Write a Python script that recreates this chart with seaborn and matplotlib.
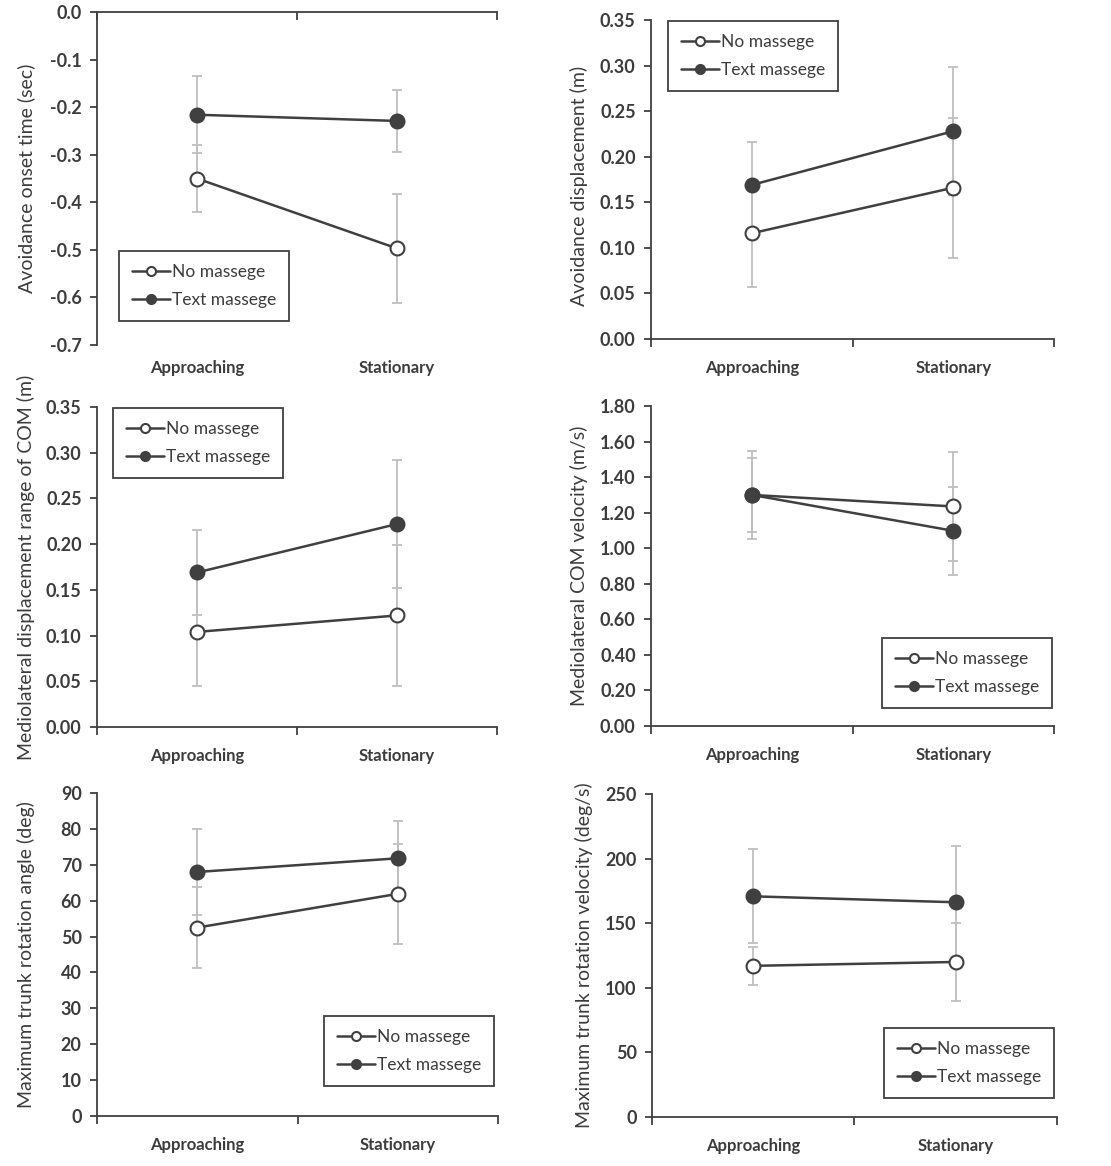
import numpy as np
import pandas as pd
import matplotlib
matplotlib.use("Agg")
import matplotlib.pyplot as plt
from matplotlib.ticker import FixedLocator
import seaborn as sns

# Data
conditions = ['Approaching', 'Stationary']
groups = ['No massege', 'Text massege']

onset_no = [-0.350, -0.497]
onset_no_err = [0.070, 0.115]
onset_text = [-0.216, -0.229]
onset_text_err = [0.081, 0.065]

disp_no = [0.116, 0.166]
disp_no_err = [0.059, 0.077]
disp_text = [0.169, 0.228]
disp_text_err = [0.047, 0.070]

ml_disp_no = [0.104, 0.122]
ml_disp_no_err = [0.059, 0.077]
ml_disp_text = [0.169, 0.222]
ml_disp_text_err = [0.047, 0.070]

ml_vel_no = [1.300, 1.235]
ml_vel_no_err = [0.210, 0.306]
ml_vel_text = [1.300, 1.098]
ml_vel_text_err = [0.246, 0.247]

angle_no = [52.5, 61.9]
angle_no_err = [11.3, 14.0]
angle_text = [68.0, 71.8]
angle_text_err = [12.0, 10.5]

rotvel_no = [117.0, 120.0]
rotvel_no_err = [14.5, 30.5]
rotvel_text = [170.8, 166.2]
rotvel_text_err = [36.5, 43.5]

sns.set_theme(style="white")
plt.rcParams['font.family'] = ['Lato', 'DejaVu Sans']

DARK = '#404040'
GREY = '#bfbfbf'
TXT = '#3c3c3c'

W, H = 1111, 1166
fig = plt.figure(figsize=(W / 100, H / 100), dpi=100)


def px_axes(x0, x1, ytop, ybot):
    return fig.add_axes([x0 / W, 1 - ybot / H, (x1 - x0) / W, (ybot - ytop) / H])


panels = [
    dict(box=(97, 497, 12, 345), no=onset_no, no_err=onset_no_err, tx=onset_text, tx_err=onset_text_err,
         ylabel='Avoidance onset time (sec)', ticks=np.round(np.arange(-0.7, 0.01, 0.1), 1), fmt='{:.1f}',
         lim=(-0.7, 0.0), top_axis=True, leg=('upper left', (0.055, 0.282)), lab=(-0.155, 0.5)),
    dict(box=(651, 1054, 20, 339), no=disp_no, no_err=disp_no_err, tx=disp_text, tx_err=disp_text_err,
         ylabel='Avoidance displacement (m)', ticks=np.round(np.arange(0, 0.351, 0.05), 2), fmt='{:.2f}',
         lim=(0, 0.35), top_axis=False, leg=('upper left', (0.042, 0.997)), lab=(-0.156, 0.48)),
    dict(box=(97, 497, 407, 727), no=ml_disp_no, no_err=ml_disp_no_err, tx=ml_disp_text, tx_err=ml_disp_text_err,
         ylabel='Mediolateral displacement range of COM (m)', ticks=np.round(np.arange(0, 0.351, 0.05), 2),
         fmt='{:.2f}', lim=(0, 0.35), top_axis=False, leg=('upper left', (0.04, 0.997)), lab=(-0.155, 0.5)),
    dict(box=(651, 1054, 406, 726), no=ml_vel_no, no_err=ml_vel_no_err, tx=ml_vel_text, tx_err=ml_vel_text_err,
         ylabel='Mediolateral COM velocity (m/s)', ticks=np.round(np.arange(0, 1.81, 0.2), 2), fmt='{:.2f}',
         lim=(0, 1.8), top_axis=False, leg=('lower right', (0.995, 0.056)), lab=(-0.156, 0.5)),
    dict(box=(97, 498, 793, 1116), no=angle_no, no_err=angle_no_err, tx=angle_text, tx_err=angle_text_err,
         ylabel='Maximum trunk rotation angle (deg)', ticks=np.arange(0, 91, 10), fmt='{:.0f}',
         lim=(0, 90), top_axis=False, leg=('lower right', (0.99, 0.093)), lab=(-0.155, 0.5)),
    dict(box=(652, 1057, 794, 1117), no=rotvel_no, no_err=rotvel_no_err, tx=rotvel_text, tx_err=rotvel_text_err,
         ylabel='Maximum trunk rotation velocity (deg/s)', ticks=np.arange(0, 251, 50), fmt='{:.0f}',
         lim=(0, 250), top_axis=False, leg=('lower right', (0.993, 0.059)), lab=(-0.146, 0.5)),
]

for p in panels:
    ax = px_axes(*p['box'])
    df = pd.DataFrame({
        'Condition': conditions * 2,
        'Group': [groups[0]] * 2 + [groups[1]] * 2,
        'Value': list(p['no']) + list(p['tx']),
        'Err': list(p['no_err']) + list(p['tx_err']),
    })

    styles = {
        groups[0]: dict(markerfacecolor='white'),
        groups[1]: dict(markerfacecolor=DARK),
    }
    for g in groups:
        sub = df[df['Group'] == g]
        sns.lineplot(data=sub, x='Condition', y='Value', ax=ax, color=DARK, lw=1.8,
                     marker='o', markersize=10, markeredgecolor=DARK, markeredgewidth=1.5,
                     label=g, errorbar=None, sort=False, zorder=3, **styles[g])
    for g in groups:
        sub = df[df['Group'] == g]
        ax.errorbar(sub['Condition'], sub['Value'], yerr=sub['Err'], fmt='none',
                    ecolor=GREY, elinewidth=1.3, capsize=3.5, capthick=1.3, zorder=1)

    ax.set_xlim(-0.5, 1.5)
    ax.set_ylim(*p['lim'])
    ax.set_yticks(p['ticks'])
    ax.set_yticklabels([p['fmt'].format(t + 0.0).replace('-0.0', '0.0') if t == 0 else p['fmt'].format(t)
                        for t in p['ticks']])
    ax.set_xticks([0, 1])
    ax.set_xticklabels(conditions)
    ax.xaxis.set_minor_locator(FixedLocator([-0.5, 0.5, 1.5]))

    ax.spines['right'].set_visible(False)
    for s in ax.spines.values():
        s.set_color(DARK)
        s.set_linewidth(1.3)

    if p['top_axis']:
        ax.spines['bottom'].set_visible(False)
        ax.tick_params(axis='x', which='minor', bottom=False, top=True, direction='in',
                       length=6, width=1.3, color=DARK)
        xpad = 11
    else:
        ax.spines['top'].set_visible(False)
        ax.tick_params(axis='x', which='minor', bottom=True, top=False, direction='out',
                       length=6, width=1.3, color=DARK)
        xpad = 15
    ax.tick_params(axis='x', which='major', bottom=True, top=False, length=0, pad=xpad,
                   labelsize=12, labelcolor=TXT)
    ax.tick_params(axis='y', which='major', left=True, direction='out', length=5, width=1.3,
                   color=DARK, pad=6, labelsize=13, labelcolor=TXT)
    for lab in ax.get_xticklabels() + ax.get_yticklabels():
        lab.set_fontweight('bold')

    ax.set_xlabel('')
    ax.set_ylabel(p['ylabel'], fontsize=14, color=TXT)
    ax.yaxis.set_label_coords(*p['lab'])

    leg = ax.legend(loc=p['leg'][0], bbox_to_anchor=p['leg'][1], frameon=True, fancybox=False,
                    edgecolor=DARK, framealpha=1, fontsize=12.5, handlelength=2.2,
                    markerscale=0.65, labelspacing=0.7, borderpad=0.75, handletextpad=0.1,
                    borderaxespad=0)
    leg.get_frame().set_linewidth(1.3)
    for t in leg.get_texts():
        t.set_color(TXT)

fig.savefig('out.png', dpi=100, facecolor='white')
